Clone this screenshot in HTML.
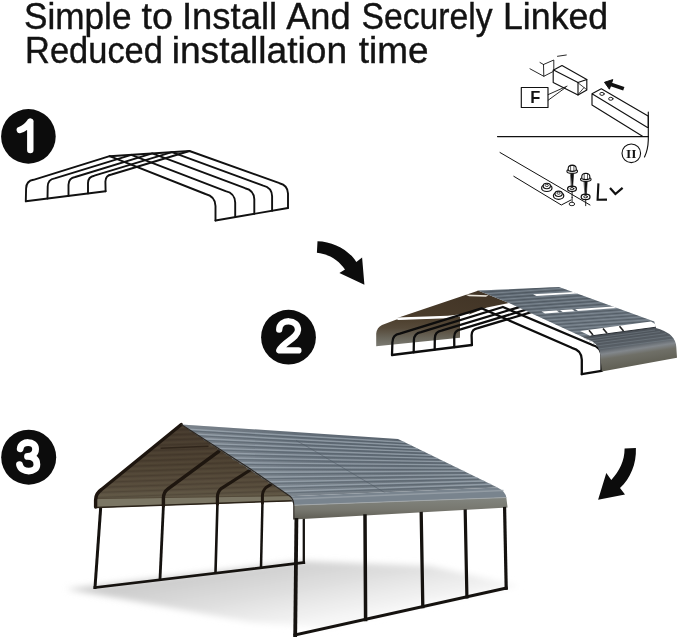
<!DOCTYPE html>
<html><head><meta charset="utf-8">
<style>
html,body{margin:0;padding:0;background:#fff;}
body{width:679px;height:639px;overflow:hidden;font-family:"Liberation Sans",sans-serif;}
svg{display:block}
</style></head><body>
<svg width="679" height="639" viewBox="0 0 679 639">
<defs>
  <linearGradient id="brown3" x1="0" y1="0" x2="0" y2="1">
    <stop offset="0" stop-color="#43372b"/>
    <stop offset="0.45" stop-color="#4b3f30"/>
    <stop offset="0.75" stop-color="#564b3b"/>
    <stop offset="0.92" stop-color="#635b49"/>
    <stop offset="1" stop-color="#68614b"/>
  </linearGradient>
  <linearGradient id="gray3" x1="0" y1="0" x2="0.12" y2="1">
    <stop offset="0" stop-color="#55606b"/>
    <stop offset="0.5" stop-color="#65707b"/>
    <stop offset="1" stop-color="#768089"/>
  </linearGradient>
  <pattern id="ribs3" width="40" height="5" patternUnits="userSpaceOnUse" patternTransform="rotate(2.6)">
    <rect y="0" width="40" height="1.4" fill="#93a0aa" opacity="0.5"/>
    <rect y="2.6" width="40" height="1.1" fill="#3f4851" opacity="0.4"/>
  </pattern>
  <pattern id="ribsb" width="40" height="5" patternUnits="userSpaceOnUse" patternTransform="rotate(-2)">
    <rect y="0" width="40" height="1.2" fill="#2e241a" opacity="0.22"/>
    <rect y="2.6" width="40" height="1" fill="#9a8a70" opacity="0.12"/>
  </pattern>
  <linearGradient id="face3" x1="0" y1="0" x2="0" y2="1">
    <stop offset="0" stop-color="#82857f"/>
    <stop offset="0.55" stop-color="#77776f"/>
    <stop offset="1" stop-color="#5e5c53"/>
  </linearGradient>
  <linearGradient id="brown2" x1="1" y1="0" x2="0" y2="1">
    <stop offset="0" stop-color="#3d3122"/>
    <stop offset="0.55" stop-color="#5c4c37"/>
    <stop offset="1" stop-color="#86836f"/>
  </linearGradient>
  <linearGradient id="brown2lo" x1="0" y1="0" x2="0" y2="1">
    <stop offset="0" stop-color="#4a3c2a"/>
    <stop offset="0.4" stop-color="#564a3a"/>
    <stop offset="0.75" stop-color="#6b685d"/>
    <stop offset="1" stop-color="#7b7a72"/>
  </linearGradient>
  <linearGradient id="brown2up" x1="0" y1="1" x2="1" y2="0">
    <stop offset="0" stop-color="#4b3d2c"/>
    <stop offset="1" stop-color="#403325"/>
  </linearGradient>
  <linearGradient id="gray2" x1="0" y1="0" x2="0.3" y2="1">
    <stop offset="0" stop-color="#5a646e"/>
    <stop offset="1" stop-color="#6c7680"/>
  </linearGradient>
  <pattern id="ribs2" width="40" height="3.4" patternUnits="userSpaceOnUse" patternTransform="rotate(-4)">
    <rect y="0" width="40" height="1" fill="#93a0aa" opacity="0.5"/>
    <rect y="1.7" width="40" height="0.8" fill="#3a434c" opacity="0.45"/>
  </pattern>
  <linearGradient id="face2" gradientUnits="userSpaceOnUse" x1="630" y1="328" x2="636" y2="367">
    <stop offset="0" stop-color="#474d54"/>
    <stop offset="0.42" stop-color="#596067"/>
    <stop offset="0.55" stop-color="#82878c"/>
    <stop offset="0.68" stop-color="#6f6f67"/>
    <stop offset="1" stop-color="#5f5e53"/>
  </linearGradient>
  <linearGradient id="shadow" gradientUnits="userSpaceOnUse" x1="250" y1="566" x2="262" y2="632">
    <stop offset="0" stop-color="#cdcdcd"/>
    <stop offset="0.45" stop-color="#dedede"/>
    <stop offset="1" stop-color="#f6f6f6"/>
  </linearGradient>
  <filter id="blur4" x="-20%" y="-60%" width="140%" height="220%"><feGaussianBlur stdDeviation="3"/></filter>
  <linearGradient id="roof3h" gradientUnits="userSpaceOnUse" x1="185" y1="430" x2="500" y2="470">
    <stop offset="0" stop-color="#fff" stop-opacity="0.22"/>
    <stop offset="0.35" stop-color="#fff" stop-opacity="0.05"/>
    <stop offset="0.7" stop-color="#000" stop-opacity="0.05"/>
    <stop offset="1" stop-color="#000" stop-opacity="0.02"/>
  </linearGradient>
  <filter id="blur8" x="-20%" y="-60%" width="140%" height="220%"><feGaussianBlur stdDeviation="6"/></filter>
</defs>
<rect width="679" height="639" fill="#fff"/>
<g font-family="Liberation Sans, sans-serif" font-size="36" fill="#111" stroke="#111" stroke-width="0.4" opacity="0.99">
<text x="24.0" y="28.6" textLength="107.5" lengthAdjust="spacingAndGlyphs">Simple</text>
<text x="141.5" y="28.6" textLength="31.3" lengthAdjust="spacingAndGlyphs">to</text>
<text x="182.0" y="28.6" textLength="95.1" lengthAdjust="spacingAndGlyphs">Install</text>
<text x="286.2" y="28.6" textLength="64.5" lengthAdjust="spacingAndGlyphs">And</text>
<text x="361.6" y="28.6" textLength="130.9" lengthAdjust="spacingAndGlyphs">Securely</text>
<text x="503.0" y="28.6" textLength="105.2" lengthAdjust="spacingAndGlyphs">Linked</text>
<text x="25.1" y="62.9" textLength="137.8" lengthAdjust="spacingAndGlyphs">Reduced</text>
<text x="171.7" y="62.9" textLength="175.4" lengthAdjust="spacingAndGlyphs">installation</text>
<text x="358.8" y="62.9" textLength="69.8" lengthAdjust="spacingAndGlyphs">time</text>
</g>
<g>
  <circle cx="28.4" cy="136.4" r="27.3" fill="#0c0c0c"/>
  <path d="M30.3,121.6 V150 M30.3,121.6 Q26,128 19.8,130" fill="none" stroke="#fff" stroke-width="6.4" stroke-linecap="round" stroke-linejoin="round"/>
  <circle cx="288.5" cy="337.2" r="27.4" fill="#0c0c0c"/>
  <path d="M279.2,329.6 C279.5,318.4 298.4,318.4 298,330.2 C297.6,338 283,342.5 279.3,350.4 H298.4" fill="none" stroke="#fff" stroke-width="6.3" stroke-linecap="round" stroke-linejoin="round"/>
  <circle cx="28.7" cy="457.2" r="27.5" fill="#0c0c0c"/>
  <path d="M20.2,448.8 C21,440.4 35.6,440.4 35.6,449 C35.6,455 30,456.4 27.5,456.4 C31,456.4 36.9,458 36.9,464.4 C36.9,473.2 21,473.2 19.5,464.6" fill="none" stroke="#fff" stroke-width="6.8" stroke-linecap="round" stroke-linejoin="round"/>
</g>
<g  fill="none" stroke="#111" stroke-width="1.9" stroke-linejoin="round" stroke-linecap="round"><path d="M25.8,201.2 L26.1,188.5 Q26.3,180.8 33.5,179.8 L109.6,156.2 L205.5,194.0 Q215.2,196.2 215.5,206.0 L215.5,220.5"/><path d="M47.5,198.5 L47.7,186.6 Q47.9,179.3 54.7,178.4 L131.3,154.8 L225.6,191.1 Q234.9,193.1 235.2,202.6 L235.2,217.1"/><path d="M68.5,195.9 L68.5,184.8 Q68.7,177.9 75.2,177.0 L152.3,153.4 L245.1,188.2 Q254.0,190.2 254.3,199.3 L254.3,213.8"/><path d="M88.0,193.4 L88.0,183.0 Q88.2,176.6 94.3,175.7 L171.9,152.1 L263.2,185.6 Q271.8,187.5 272.1,196.2 L272.1,210.8"/><path d="M105.6,191.2 L105.4,181.5 Q105.6,175.3 111.5,174.5 L189.5,151.0 L279.5,183.2 Q287.7,185.1 288.0,193.5 L288.0,208.0"/><path d="M25.8,201.2 L105.6,191.2"/><path d="M215.5,220.5 L288.0,208.0"/><path d="M109.6,156.2 L189.5,151.0"/></g>
<path d="M376.2,346.3 L376.2,333.5 Q377,327.3 382,325 L396.5,319.4 L447.8,317.6 L460,315.8 L460,337.7 Z" fill="url(#brown2lo)"/>
<path d="M396.5,318.2 L476.5,291.3 L478,290.6 L509,303 L487,307.6 L469,314.6 L447.8,316.6 Z" fill="url(#brown2up)"/>
<path d="M396.5,317.6 L447.8,315.7 L470,313.2 L468.5,315.6 L447.8,318.3 L398,320.1 Z" fill="#fff"/>
<path d="M465,294.6 L488.5,295.3 L486,296.7 L469,296.2 Z" fill="#e9e5dc"/>
<g fill="none" stroke="#0d0d0d" stroke-width="2.3" stroke-linejoin="round" stroke-linecap="round"><path d="M392.0,355.0 L392.4,342.2 Q392.6,334.6 399.8,333.6 L481.5,308.3 L571.8,347.8 Q581.5,349.9 581.8,359.8 L581.8,374.2"/><path d="M413.7,352.3 L413.9,340.3 Q414.1,333.1 421.0,332.1 L502.9,307.0 L591.9,344.8 Q601.2,346.9 601.5,356.4 L601.5,370.9"/><path d="M434.7,349.6 L434.8,338.5 Q435.0,331.6 441.5,330.7 L523.5,305.8 L611.3,342.0"/><path d="M454.3,347.2 L454.2,336.8 Q454.4,330.3 460.6,329.4 L542.7,304.6 L629.5,339.3"/><path d="M471.9,345.0 L471.6,335.2 Q471.8,329.1 477.8,328.2 L560.0,303.6 L645.8,336.9"/><path d="M392.0,355.0 L471.9,345.0"/><path d="M581.8,374.2 L601.5,370.9"/></g>
<path d="M478,290.6 L559,287 L654.2,321.6 L656,327.5 L584,338 L592.5,341.5 L509,303 Z" fill="url(#gray2)"/>
<path d="M478,290.6 L559,287 L654.2,321.6 L656,327.5 L584,338 L592.5,341.5 L509,303 Z" fill="url(#ribs2)"/>
<path d="M583,336.9 L626.7,330.6 L654.2,327.4 Q667,330.8 671.5,336 Q676,340.5 676.3,347 L677,357.7 L601.8,371.6 L600.3,355 Q599.5,346 592.5,341.5 Z" fill="url(#face2)"/>
<path d="M586,339.3 L655,330 M589,341.2 L660,331.6 M593,343.4 L666,333.6 M596,346 L671,336.2 M598.5,349 L674,339" stroke="#7b848c" stroke-width="0.9" opacity="0.55" fill="none"/>
<path d="M533,294.2 L574,292 L577.5,293.6 L536.5,296 Z" fill="#fff"/>
<path d="M541.5,311.6 L613,306.4 L616.5,308 L545,313.6 Z" fill="#fff"/>
<path d="M556.5,310.4 L560,310.2 L563,312.2 L559.5,312.5 Z M572,309.3 L575,309.1 L578,311 L575,311.3 Z" fill="#5a646d"/>
<path d="M580,331 L651,321.6 L655.5,324.2 L656,327.2 L590.5,336 Z" fill="#fff"/>
<path d="M589,330.2 L593,335 M603,328.4 L607,333.2 M619.5,326.2 L623.5,331" stroke="#222" stroke-width="1.6" fill="none"/>
<path d="M590.5,336 L656,327.2" stroke="#2a2f35" stroke-width="1" fill="none"/>
<path d="M317.5,241.2 C333,241.5 349,250 356.3,262 L362.1,257.5 L364.4,284.8 L339.4,273.1 L345,269.4 C339.5,261.5 330,254 316.9,252.8 Z" fill="#0c0c0c"/>
<path d="M624.6,448.5 L635.9,447.9 C636.5,464 630.5,478 620,488.1 L625,494.4 L598.1,499.8 L606.3,473.1 L611.3,480 C619.5,471 624.6,461 624.6,448.5 Z" fill="#0c0c0c"/>
<path d="M66,589 L300,561 L430,566 L520,586 L420,606 L330,628 L250,622 Z" fill="url(#shadow)" filter="url(#blur4)"/>
<g stroke="#15120f" fill="none" stroke-linecap="square"><path d="M100.8,506.0 L95.0,587.5" stroke-width="3.0"/><path d="M163.5,504.0 L160.0,579.0" stroke-width="2.8"/><path d="M217.5,502.0 L215.5,572.6" stroke-width="2.6"/><path d="M262.5,501.0 L261.0,567.6" stroke-width="2.5"/><path d="M303.8,519.0 L303.8,562.8" stroke-width="2.3"/><path d="M95,587.5 L303.8,562.6" stroke-width="2.7"/></g>
<path d="M181.3,424.5 L101.5,489.5 Q95.5,493.5 95.5,500 L95.5,507.8 L293,501 L290,496.2 L250,468.8 Z" fill="url(#brown3)"/>
<path d="M181.3,424.5 L101.5,489.5 Q95.5,493.5 95.5,500 L95.5,507.8 L293,501 L290,496.2 L250,468.8 Z" fill="url(#ribsb)"/>
<path d="M95.5,499 L95.5,507.8 L293,501 L291,496 Z" fill="#7b7664"/>
<path d="M95.5,498.6 L291,495.6" stroke="#4e4535" stroke-width="1" fill="none" opacity="0.7"/>
<path d="M95.5,507.4 L293,500.8" stroke="#2a2218" stroke-width="1.5" fill="none"/>
<g stroke="#1e160f" fill="none" stroke-linecap="round" stroke-linejoin="round"><path d="M95.6,507 L95.6,500 Q95.6,493.5 101.5,489.5 L181.3,424.5" stroke-width="3.4"/><path d="M163.4,506 L163.4,498 Q163.6,492 168,488.8 L218.8,451.3" stroke-width="3.4"/><path d="M217.4,504 L217.4,497 Q217.6,491.5 221.5,488.3 L251,469.5" stroke-width="3.2"/><path d="M262.4,503 L262.4,496 Q262.6,490.5 266,487.5 L273.5,482.8" stroke-width="3"/></g>
<path d="M160.6,448.2 L208.5,446.2" stroke="#2b2118" stroke-width="1.6" fill="none" opacity="0.85"/>
<path d="M181.3,424.5 L398.0,439.0 L497.5,487.5 L290.0,496.2 Z" fill="url(#gray3)"/>
<path d="M181.3,424.5 L398.0,439.0 L497.5,487.5 L290.0,496.2 Z" fill="url(#roof3h)"/>
<g fill="none"><path d="M188.5,429.3 L404.6,442.2" stroke="#a9b4be" stroke-width="1.4" opacity="0.6"/><path d="M189.7,430.9 L405.8,443.8" stroke="#55606a" stroke-width="1.1" opacity="0.6"/><path d="M195.8,434.1 L411.3,445.5" stroke="#a9b4be" stroke-width="1.4" opacity="0.6"/><path d="M197.0,435.7 L412.5,447.1" stroke="#55606a" stroke-width="1.1" opacity="0.6"/><path d="M203.0,438.8 L417.9,448.7" stroke="#a9b4be" stroke-width="1.4" opacity="0.6"/><path d="M204.2,440.4 L419.1,450.3" stroke="#55606a" stroke-width="1.1" opacity="0.6"/><path d="M210.3,443.6 L424.5,451.9" stroke="#a9b4be" stroke-width="1.4" opacity="0.6"/><path d="M211.5,445.2 L425.7,453.5" stroke="#55606a" stroke-width="1.1" opacity="0.6"/><path d="M217.5,448.4 L431.2,455.2" stroke="#a9b4be" stroke-width="1.4" opacity="0.6"/><path d="M218.7,450.0 L432.4,456.8" stroke="#55606a" stroke-width="1.1" opacity="0.6"/><path d="M224.8,453.2 L437.8,458.4" stroke="#a9b4be" stroke-width="1.4" opacity="0.6"/><path d="M226.0,454.8 L439.0,460.0" stroke="#55606a" stroke-width="1.1" opacity="0.6"/><path d="M232.0,458.0 L444.4,461.6" stroke="#a9b4be" stroke-width="1.4" opacity="0.6"/><path d="M233.2,459.6 L445.6,463.2" stroke="#55606a" stroke-width="1.1" opacity="0.6"/><path d="M239.3,462.7 L451.1,464.9" stroke="#a9b4be" stroke-width="1.4" opacity="0.6"/><path d="M240.5,464.3 L452.3,466.5" stroke="#55606a" stroke-width="1.1" opacity="0.6"/><path d="M246.5,467.5 L457.7,468.1" stroke="#a9b4be" stroke-width="1.4" opacity="0.6"/><path d="M247.7,469.1 L458.9,469.7" stroke="#55606a" stroke-width="1.1" opacity="0.6"/><path d="M253.8,472.3 L464.3,471.3" stroke="#a9b4be" stroke-width="1.4" opacity="0.6"/><path d="M255.0,473.9 L465.5,472.9" stroke="#55606a" stroke-width="1.1" opacity="0.6"/><path d="M261.0,477.1 L471.0,474.6" stroke="#a9b4be" stroke-width="1.4" opacity="0.6"/><path d="M262.2,478.7 L472.2,476.2" stroke="#55606a" stroke-width="1.1" opacity="0.6"/><path d="M268.3,481.9 L477.6,477.8" stroke="#a9b4be" stroke-width="1.4" opacity="0.6"/><path d="M269.5,483.5 L478.8,479.4" stroke="#55606a" stroke-width="1.1" opacity="0.6"/><path d="M275.5,486.6 L484.2,481.0" stroke="#a9b4be" stroke-width="1.4" opacity="0.6"/><path d="M276.7,488.2 L485.4,482.6" stroke="#55606a" stroke-width="1.1" opacity="0.6"/><path d="M282.8,491.4 L490.9,484.3" stroke="#a9b4be" stroke-width="1.4" opacity="0.6"/><path d="M284.0,493.0 L492.1,485.9" stroke="#55606a" stroke-width="1.1" opacity="0.6"/></g>
<path d="M296,440.5 L307,446.5 L399,501" stroke="#4d5761" stroke-width="0.9" fill="none" opacity="0.55"/>
<path d="M290,496.2 L497.5,487.5 Q505.5,491.5 506.3,497.5 L293.8,505.2 Z" fill="#79848e"/>
<path d="M291.5,499 L503.5,490.5" stroke="#9aa3aa" stroke-width="1.6" fill="none" opacity="0.8"/>
<path d="M293.8,505.2 L506.3,497.5 L507.6,507.5 L293.8,519.6 Z" fill="url(#face3)"/>
<path d="M293.8,505.2 L506.3,497.5" stroke="#a2a7aa" stroke-width="0.9" fill="none"/>
<path d="M181.3,424.5 L250,468.8 L290,496.2 Q293.5,499 293.8,505.2 L293.8,519.6" stroke="#2b2620" stroke-width="1.1" fill="none"/>
<g stroke="#15120f" fill="none" stroke-linecap="square"><path d="M296.4,519.8 L295.2,635.0" stroke-width="3.8"/><path d="M365.0,516.0 L365.6,619.5" stroke-width="3.5"/><path d="M421.2,513.5 L422.8,606.6" stroke-width="3.3"/><path d="M465.2,511.0 L466.9,596.9" stroke-width="3.2"/><path d="M504.6,508.5 L506.2,588.3" stroke-width="3.2"/><path d="M295,635 L506.2,588" stroke-width="3"/></g>
<g fill="none" stroke="#111" stroke-width="1.15" stroke-linecap="round" stroke-linejoin="round">
  <path d="M497.5,136.6 H648.5"/>
  <path d="M648.3,112 V140 Q648,150 644.5,157"/>
  <rect x="521.3" y="87.5" width="26.7" height="20" fill="#fff"/>
  <path d="M548.2,94.6 L567,86.2 M548.2,100.2 L565.5,87.6" stroke-width="0.9"/>
  <!-- big tube -->
  <path d="M578,82.5 L586.8,79.5 L586.8,90 L578,95 Z"/>
  <path d="M578,82.8 L586.6,89.6 M578,94.6 L584,87.6" stroke-width="0.8"/>
  <path d="M578,82.5 L553.6,70 L562,65.5 L586.8,79.5 M578,95 L553.2,82.5 L553.2,70"/>
  <!-- small tube -->
  <path d="M543.5,64.5 L553.8,60 L553.8,70 M543.5,64.5 L543.8,76.3 L553.2,71.5 M530,68.8 L543.8,76.3 M540,62.5 L543.5,64.5 M557.5,56.3 L566.3,55" stroke-width="0.9"/>
  <!-- rail -->
  <path d="M592,93.8 L601.3,88.8 L648.5,116.3 M592,93.8 L647.5,127.5 M592,93.8 L592,105 L642.5,136.3 M648.3,127.5 L648.3,116"/>
  <ellipse cx="602" cy="93.9" rx="2.2" ry="1.5" stroke-width="0.9"/><ellipse cx="610.8" cy="98.8" rx="2.2" ry="1.5" stroke-width="0.9"/>
  <!-- lower rail -->
  <path d="M500,152.5 L590,205 M513.8,176.3 L561.3,205 L571,200" stroke-width="1"/>
  <circle cx="631.3" cy="153.3" r="9.3" stroke-width="1.1"/>
</g>
<g stroke="#111" stroke-linejoin="round" stroke-linecap="round">
  <path d="M572.1,190 V197.6" stroke-width="0.9" fill="none"/>
  <ellipse cx="572" cy="188.8" rx="4.4" ry="2.7" fill="#fff" stroke-width="1.25"/>
  <ellipse cx="572" cy="188.7" rx="1.9" ry="1.1" fill="#fff" stroke-width="0.9"/>
  <path d="M570.7,172.5 L573.7,172.5 L572.7,187 L571.7,187 Z" fill="#111" stroke-width="0.6"/>
  <ellipse cx="572.2" cy="171.2" rx="5.3" ry="2.1" fill="#fff" stroke-width="1.1"/>
  <path d="M568.2,170.6 L568.2,168 Q568.5,165.3 572.2,165.1 Q575.9,165.3 576.2,168 L576.2,170.6 Q572.2,172.2 568.2,170.6 Z" fill="#fff" stroke-width="1.1"/>
  <path d="M570.6,166 V171 M573.9,166 V171" stroke-width="0.7" fill="none"/>
</g>
<g transform="translate(13.6,8.1)" stroke="#111" stroke-linejoin="round" stroke-linecap="round">
  <path d="M572.1,190 V197.6" stroke-width="0.9" fill="none"/>
  <ellipse cx="572" cy="188.8" rx="4.4" ry="2.7" fill="#fff" stroke-width="1.25"/>
  <ellipse cx="572" cy="188.7" rx="1.9" ry="1.1" fill="#fff" stroke-width="0.9"/>
  <path d="M570.7,172.5 L573.7,172.5 L572.7,187 L571.7,187 Z" fill="#111" stroke-width="0.6"/>
  <ellipse cx="572.2" cy="171.2" rx="5.3" ry="2.1" fill="#fff" stroke-width="1.1"/>
  <path d="M568.2,170.6 L568.2,168 Q568.5,165.3 572.2,165.1 Q575.9,165.3 576.2,168 L576.2,170.6 Q572.2,172.2 568.2,170.6 Z" fill="#fff" stroke-width="1.1"/>
  <path d="M570.6,166 V171 M573.9,166 V171" stroke-width="0.7" fill="none"/>
</g>
<path d="M572.1,197 V202" stroke="#111" stroke-width="0.9" fill="none"/>
<ellipse cx="571.9" cy="204" rx="2.8" ry="1.7" fill="#fff" stroke="#111" stroke-width="0.9"/>
<g stroke="#111" stroke-linejoin="round">
  <ellipse cx="546.8" cy="188" rx="5.2" ry="3.5" fill="#fff" stroke-width="1.2"/>
  <ellipse cx="546.8" cy="186" rx="3.6" ry="2.7" fill="#fff" stroke-width="1.1"/>
  <ellipse cx="546.8" cy="185.4" rx="1.6" ry="1.1" fill="#fff" stroke-width="0.8"/>
</g>
<g transform="translate(11.8,7.8)" stroke="#111" stroke-linejoin="round">
  <ellipse cx="546.8" cy="188" rx="5.2" ry="3.5" fill="#fff" stroke-width="1.2"/>
  <ellipse cx="546.8" cy="186" rx="3.6" ry="2.7" fill="#fff" stroke-width="1.1"/>
  <ellipse cx="546.8" cy="185.4" rx="1.6" ry="1.1" fill="#fff" stroke-width="0.8"/>
</g>
<path d="M623.8,88.8 L610.5,84.2" stroke="#111" stroke-width="3.8" fill="none"/>
<path d="M604.5,82.3 L612.8,79.6 L609.4,89.2 Z" fill="#111" stroke="#111" stroke-width="1" stroke-linejoin="round"/>
<path d="M598.4,183.4 L597.6,199.8 L607,199.6" stroke="#111" stroke-width="2.1" fill="none" stroke-linejoin="miter"/>
<path d="M610,188 L615.4,194 L622.6,187.8" stroke="#111" stroke-width="2.2" fill="none"/>
<text x="535.4" y="103" text-anchor="middle" font-family="Liberation Sans, sans-serif" font-weight="bold" font-size="16.5" fill="#111" opacity="0.99">F</text>
<text x="631.3" y="157.9" text-anchor="middle" font-family="Liberation Serif, serif" font-weight="bold" font-size="13.5" fill="#111" opacity="0.99">II</text>
</svg>
</body></html>
